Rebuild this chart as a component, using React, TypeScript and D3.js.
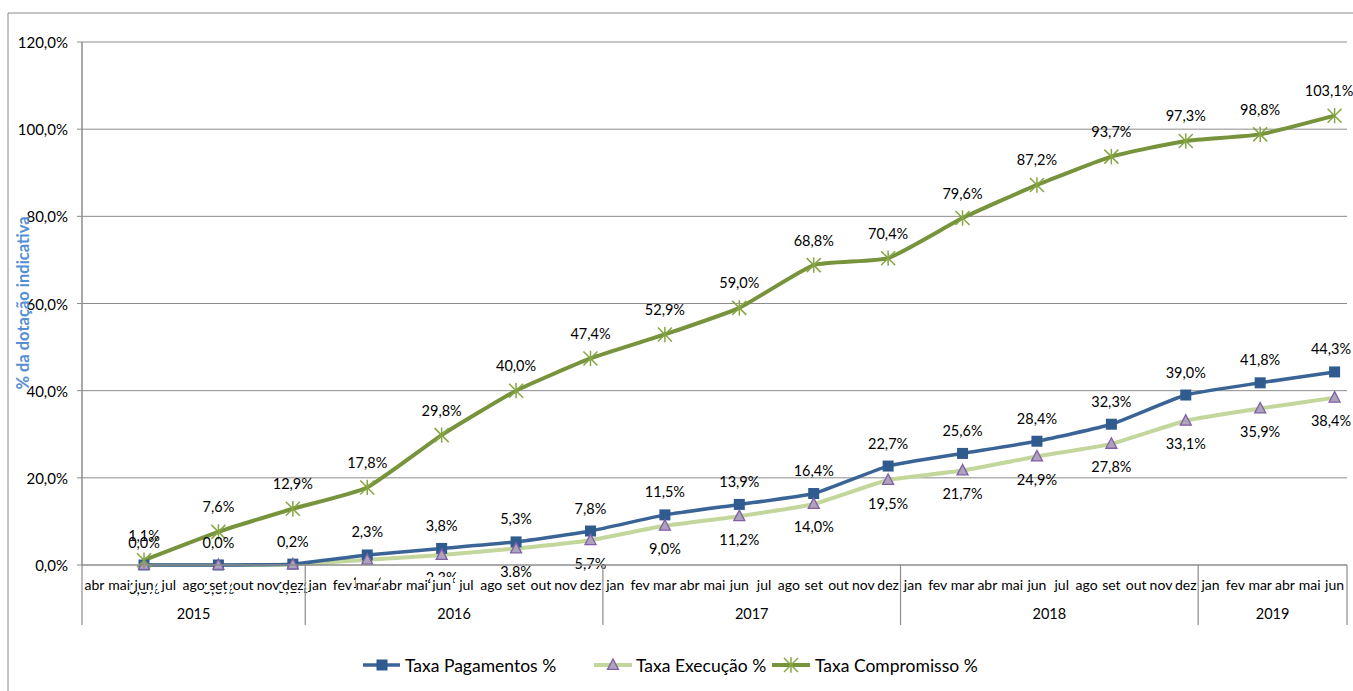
import React from "react";
import * as d3 from "d3";

const years = ["2015", "2016", "2017", "2018", "2019"];
const monthsByYear: string[][] = [
  ["abr", "mai", "jun", "jul", "ago", "set", "out", "nov", "dez"],
  ["jan", "fev", "mar", "abr", "mai", "jun", "jul", "ago", "set", "out", "nov", "dez"],
  ["jan", "fev", "mar", "abr", "mai", "jun", "jul", "ago", "set", "out", "nov", "dez"],
  ["jan", "fev", "mar", "abr", "mai", "jun", "jul", "ago", "set", "out", "nov", "dez"],
  ["jan", "fev", "mar", "abr", "mai", "jun"],
];
const pointKeys = [
  "2015-jun", "2015-set", "2015-dez",
  "2016-mar", "2016-jun", "2016-set", "2016-dez",
  "2017-mar", "2017-jun", "2017-set", "2017-dez",
  "2018-mar", "2018-jun", "2018-set", "2018-dez",
  "2019-mar", "2019-jun",
];
const pagamentos = [0.0, 0.0, 0.2, 2.3, 3.8, 5.3, 7.8, 11.5, 13.9, 16.4, 22.7, 25.6, 28.4, 32.3, 39.0, 41.8, 44.3];
const execucao = [0.0, 0.0, 0.1, 1.2, 2.3, 3.8, 5.7, 9.0, 11.2, 14.0, 19.5, 21.7, 24.9, 27.8, 33.1, 35.9, 38.4];
const compromisso = [1.1, 7.6, 12.9, 17.8, 29.8, 40.0, 47.4, 52.9, 59.0, 68.8, 70.4, 79.6, 87.2, 93.7, 97.3, 98.8, 103.1];
const yTicks = [0, 20, 40, 60, 80, 100, 120];

const W = 1353;
const H = 691;
const left = 82;
const right = 1347;
const top = 42;
const bottom = 565;

const FONT = "Lato, 'Open Sans', sans-serif";
const C_PAG = "#3A6496";
const C_PAG_M = "#2F5B8F";
const C_EXE = "#C3D69B";
const C_COM = "#77933C";
const GRID = "#8C8C8C";

const fmt = (v: number) => v.toFixed(1).replace(".", ",") + "%";

function Square({ x, y }: { x: number; y: number }) {
  return <rect x={x - 5.5} y={y - 5.5} width={11} height={11} fill={C_PAG_M} />;
}
function Triangle({ x, y }: { x: number; y: number }) {
  const s = 5.5;
  return (
    <path
      d={`M${x},${y - s * 1.1}L${x + s},${y + s * 0.8}L${x - s},${y + s * 0.8}Z`}
      fill="#ADA3BD"
      stroke="#7F5FA6"
      strokeWidth={1.3}
    />
  );
}
function Star({ x, y }: { x: number; y: number }) {
  const s = 7;
  return (
    <g stroke="#86A544" strokeWidth={1.5}>
      <line x1={x - s} y1={y - s} x2={x + s} y2={y + s} />
      <line x1={x - s} y1={y + s} x2={x + s} y2={y - s} />
      <line x1={x} y1={y - s * 1.1} x2={x} y2={y + s * 1.1} />
    </g>
  );
}

export default function App() {
  const allKeys: string[] = [];
  monthsByYear.forEach((ms, i) => ms.forEach((m) => allKeys.push(`${years[i]}-${m}`)));
  const x = d3.scaleBand<string>().domain(allKeys).range([left, right]).padding(0);
  const y = d3.scaleLinear().domain([0, 120]).range([bottom, top]);
  const cx = (k: string) => (x(k) as number) + x.bandwidth() / 2;

  const line = d3
    .line<number>()
    .x((_, i) => cx(pointKeys[i]))
    .y((d) => y(d))
    .curve(d3.curveCardinal.tension(0.55));

  let idx = 0;
  const yearSpans = monthsByYear.map((ms, i) => {
    const start = x(allKeys[idx]) as number;
    idx += ms.length;
    const end = i === monthsByYear.length - 1 ? right : (x(allKeys[idx]) as number);
    return { year: years[i], start, end };
  });

  const labelStyle = { fontFamily: FONT, fontSize: 14.5, fill: "#000" } as const;

  return (
    <svg
      width={W}
      height={H}
      style={{ position: "absolute", left: 0, top: 0, background: "#fff" }}
    >
      <rect x={0} y={0} width={W} height={H} fill="#fff" />
      <line x1={8} y1={13} x2={W} y2={13} stroke={GRID} strokeWidth={1} />
      <line x1={8} y1={13} x2={8} y2={H} stroke={GRID} strokeWidth={1} />

      {yTicks.map((t) => (
        <g key={t}>
          {t > 0 && <line x1={left} x2={right} y1={y(t)} y2={y(t)} stroke={GRID} strokeWidth={1} />}
          <line x1={77} x2={left} y1={y(t)} y2={y(t)} stroke={GRID} strokeWidth={1} />
          <text x={68} y={y(t)} textAnchor="end" dominantBaseline="central" style={{ fontFamily: FONT, fontSize: 15 }}>
            {fmt(t)}
          </text>
        </g>
      ))}

      <text
        transform={`translate(23,303) rotate(-90)`}
        textAnchor="middle"
        dominantBaseline="central"
        style={{ fontFamily: FONT, fontSize: 16.5, fontWeight: 700, fill: "#558ED5" }}
      >
        % da dotação indicativa
      </text>

      <path d={line(execucao) || ""} fill="none" stroke={C_EXE} strokeWidth={4} strokeLinejoin="round" />
      <path d={line(pagamentos) || ""} fill="none" stroke={C_PAG} strokeWidth={3.5} strokeLinejoin="round" />
      <path d={line(compromisso) || ""} fill="none" stroke={C_COM} strokeWidth={4} strokeLinejoin="round" />

      {pagamentos.map((v, i) => (
        <Square key={"p" + i} x={cx(pointKeys[i])} y={y(v)} />
      ))}
      {execucao.map((v, i) => (
        <Triangle key={"e" + i} x={cx(pointKeys[i])} y={y(v)} />
      ))}
      {compromisso.map((v, i) => (
        <Star key={"c" + i} x={cx(pointKeys[i])} y={y(v)} />
      ))}

      {execucao.map((v, i) => (
        <text key={"el" + i} x={Math.min(cx(pointKeys[i]), 1331)} y={y(v) + 23} textAnchor="middle" dominantBaseline="central" style={labelStyle}>
          {fmt(v)}
        </text>
      ))}
      {pagamentos.map((v, i) => (
        <text key={"pl" + i} x={Math.min(cx(pointKeys[i]), 1331)} y={y(v) - 23} textAnchor="middle" dominantBaseline="central" style={labelStyle}>
          {fmt(v)}
        </text>
      ))}
      {compromisso.map((v, i) => (
        <text key={"cl" + i} x={Math.min(cx(pointKeys[i]), 1329)} y={y(v) - 25} textAnchor="middle" dominantBaseline="central" style={labelStyle}>
          {fmt(v)}
        </text>
      ))}

      {allKeys.map((k) => (
        <g key={k}>
          <rect x={(x(k) as number) + 1} y={577} width={x.bandwidth() - 2} height={15} fill="#fff" />
          <text x={cx(k)} y={584} textAnchor="middle" dominantBaseline="central" style={{ fontFamily: FONT, fontSize: 14 }}>
            {k.split("-")[1]}
          </text>
        </g>
      ))}
      <line x1={left} x2={right} y1={bottom} y2={bottom} stroke={GRID} strokeWidth={1.5} />
      <line x1={left} x2={left} y1={top} y2={bottom} stroke={GRID} strokeWidth={1.5} />
      {yearSpans.map((s) => (
        <g key={s.year}>
          <line x1={s.start} x2={s.start} y1={bottom} y2={625} stroke={GRID} strokeWidth={1.2} />
          <text x={(s.start + s.end) / 2} y={613} textAnchor="middle" dominantBaseline="central" style={{ fontFamily: FONT, fontSize: 14.5 }}>
            {s.year}
          </text>
        </g>
      ))}
      <line x1={right} x2={right} y1={bottom} y2={625} stroke={GRID} strokeWidth={1.2} />

      <g>
        <line x1={363} x2={400} y1={665} y2={665} stroke={C_PAG} strokeWidth={3.5} />
        <Square x={382} y={665} />
        <text x={405} y={665} dominantBaseline="central" style={{ fontFamily: FONT, fontSize: 17.5 }}>
          Taxa Pagamentos %
        </text>
        <line x1={594} x2={632} y1={665} y2={665} stroke={C_EXE} strokeWidth={4} />
        <Triangle x={613} y={665} />
        <text x={636} y={665} dominantBaseline="central" style={{ fontFamily: FONT, fontSize: 17.5 }}>
          Taxa Execução %
        </text>
        <line x1={772} x2={810} y1={665} y2={665} stroke={C_COM} strokeWidth={4} />
        <Star x={791} y={665} />
        <text x={815} y={665} dominantBaseline="central" style={{ fontFamily: FONT, fontSize: 17.5 }}>
          Taxa Compromisso %
        </text>
      </g>
    </svg>
  );
}
